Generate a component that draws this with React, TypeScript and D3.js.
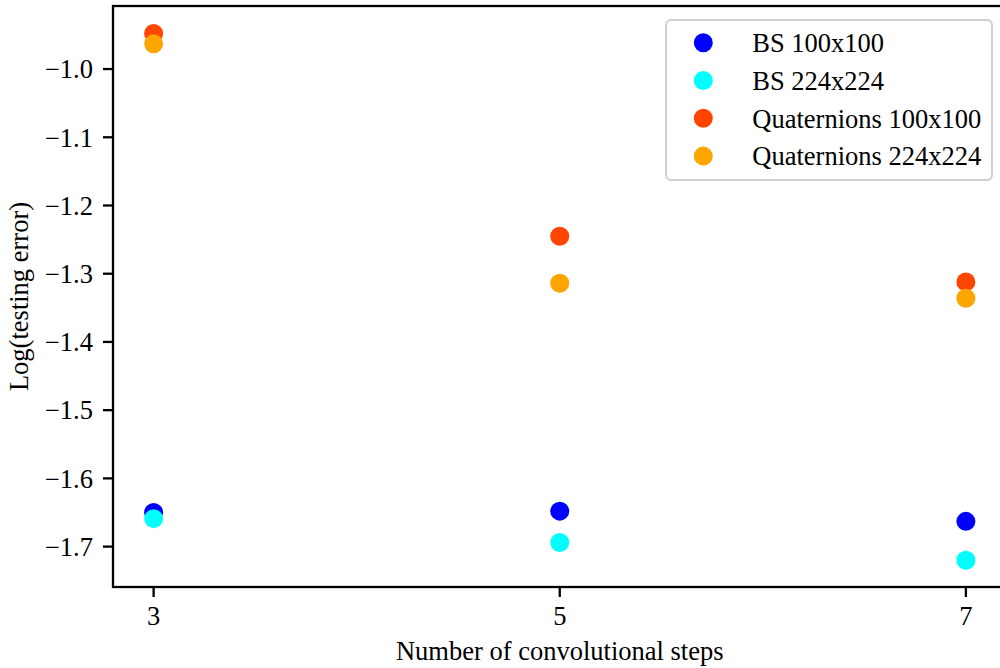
import React from 'react';
import * as d3 from 'd3';

// values
const steps = [3, 5, 7];
const bs100 = [-1.65, -1.648, -1.663];
const bs224 = [-1.659, -1.694, -1.72];
const quat100 = [-0.948, -1.245, -1.312];
const quat224 = [-0.963, -1.314, -1.336];

const xTicks = [3, 5, 7];
const yTicks = [-1.0, -1.1, -1.2, -1.3, -1.4, -1.5, -1.6, -1.7];

const seriesNames = ['BS 100x100', 'BS 224x224', 'Quaternions 100x100', 'Quaternions 224x224'];
const seriesColors = ['#0000ff', '#00ffff', '#ff4500', '#ffa500'];
const seriesValues = [bs100, bs224, quat100, quat224];

const W = 1000;
const H = 668;
const FONT = '"Liberation Serif", "Times New Roman", serif';
const FS = 26.5;

const margin = { top: 6, left: 113, bottom: 587 };

export default function App() {
  const x = d3.scaleLinear().domain([2.8, 7.2]).range([margin.left, 1006.5]);
  const y = d3.scaleLinear().domain([-1.7592, -0.9076]).range([margin.bottom, margin.top]);
  const fmt = (v: number) => d3.format('.1f')(v).replace('-', '\u2212');

  const legendX = 666;
  const legendY = 20;
  const rowH = 37.8;

  return (
    <div style={{ position: 'absolute', left: 0, top: 0 }}>
      <svg width={W} height={H} style={{ display: 'block', background: '#fff' }} fontFamily={FONT}>
        {/* points */}
        {seriesValues.map((vals, si) => (
          <g key={seriesNames[si]}>
            {vals.map((v, i) => (
              <circle key={i} cx={x(steps[i])} cy={y(v)} r={9.5} fill={seriesColors[si]} />
            ))}
          </g>
        ))}

        {/* frame */}
        <rect
          x={margin.left}
          y={margin.top}
          width={x.range()[1] - margin.left}
          height={margin.bottom - margin.top}
          fill="none"
          stroke="#000"
          strokeWidth={2.3}
        />

        {/* y axis */}
        {yTicks.map((t) => (
          <g key={t} transform={`translate(0,${y(t)})`}>
            <line x1={margin.left - 10} x2={margin.left} stroke="#000" strokeWidth={2.3} />
            <text x={margin.left - 20} dy="0.35em" textAnchor="end" fontSize={FS}>
              {fmt(t)}
            </text>
          </g>
        ))}
        <text
          transform={`translate(28,${(margin.top + margin.bottom) / 2}) rotate(-90)`}
          textAnchor="middle"
          fontSize={FS}
        >
          Log(testing error)
        </text>

        {/* x axis */}
        {xTicks.map((t) => (
          <g key={t} transform={`translate(${x(t)},${margin.bottom})`}>
            <line y1={0} y2={10} stroke="#000" strokeWidth={2.3} />
            <text y={38} textAnchor="middle" fontSize={FS}>
              {t}
            </text>
          </g>
        ))}
        <text x={(margin.left + x.range()[1]) / 2} y={660} textAnchor="middle" fontSize={FS}>
          Number of convolutional steps
        </text>

        {/* legend */}
        <rect
          x={legendX}
          y={legendY}
          width={326}
          height={160}
          rx={5}
          fill="#fff"
          fillOpacity={0.8}
          stroke="#d0d0d0"
          strokeWidth={2}
        />
        {seriesNames.map((name, i) => (
          <g key={name} transform={`translate(${legendX},${legendY + 22.7 + i * rowH})`}>
            <circle cx={37.3} cy={0} r={9.5} fill={seriesColors[i]} />
            <text x={86.3} dy="0.35em" fontSize={FS}>
              {name}
            </text>
          </g>
        ))}
      </svg>
    </div>
  );
}
